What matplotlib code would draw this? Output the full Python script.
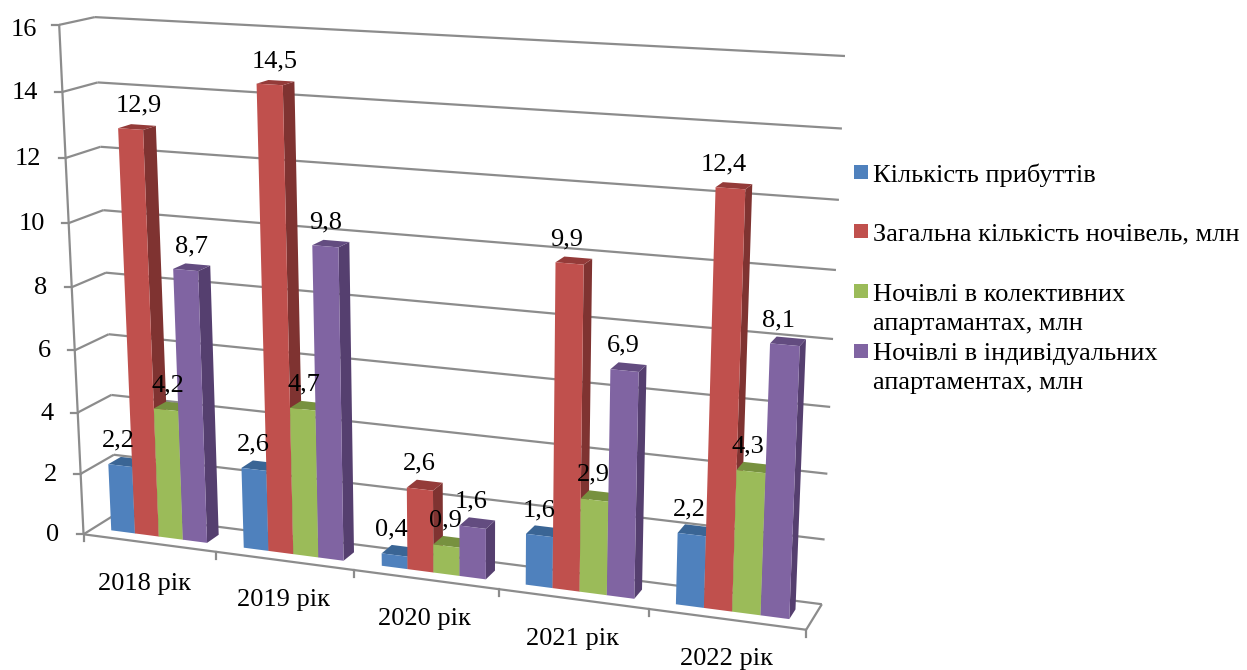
import numpy as np
import matplotlib
matplotlib.use("Agg")
import matplotlib.pyplot as plt
from matplotlib.patches import Polygon, Rectangle

plt.rcParams['font.family'] = ['Liberation Serif', 'DejaVu Serif']

# ---- data ----
categories = ['2018 рік', '2019 рік', '2020 рік', '2021 рік', '2022 рік']
arrivals = [2.2, 2.6, 0.4, 1.6, 2.2]
total_nights = [12.9, 14.5, 2.6, 9.9, 12.4]
collective_nights = [4.2, 4.7, 0.9, 2.9, 4.3]
individual_nights = [8.7, 9.8, 1.6, 6.9, 8.1]
series_names = ['Кількість прибуттів', 'Загальна кількість ночівель, млн',
                'Ночівлі в колективних\nапартамантах, млн',
                'Ночівлі в індивідуальних\nапартаментах, млн']
y_ticks = [0, 2, 4, 6, 8, 10, 12, 14, 16]

series = [arrivals, total_nights, collective_nights, individual_nights]
front_cols = ['#4F81BD', '#C0504D', '#9BBB59', '#8064A2']
side_cols = ['#385D8A', '#7F3331', '#6E8540', '#553F6F']
top_cols = ['#3A6595', '#943B39', '#77913F', '#634C80']
GREY = '#8C8C8C'
FS = 19

# horizontal nudge of each data label, pixels
label_dx = [[-8, -7, -8, -5, -6],
            [1, -1, -6, -8, -10],
            [-5, -5, -6, -5, -7],
            [-1, -6, -6, -5, -10]]
# nudges of category labels and of the top tick label, pixels
cat_dx = [-5, -1, -1, 0, 0]
cat_dy = [41, 39, 40, 40, 40]
tick_nudge = {16: (2, 4)}

# ---- perspective camera fitted to the plot box corners ----
calib_world = [(0, 0, 0), (0, 16, 0), (0, 0, 1), (0, 16, 1), (5, 0, 1), (5, 16, 1), (5, 0, 0)]
calib_px = [(82, 533), (60, 26), (118, 515), (94, 16), (821, 604), (845, 56), (807, 630)]
A, b = [], []
for (X, Y, Z), (u, v) in zip(calib_world, calib_px):
    A.append([X, Y, Z, 1, 0, 0, 0, 0, -u * X, -u * Y, -u * Z])
    A.append([0, 0, 0, 0, X, Y, Z, 1, -v * X, -v * Y, -v * Z])
    b += [u, v]
P = np.append(np.linalg.lstsq(np.array(A, float), np.array(b, float), rcond=None)[0], 1).reshape(3, 4)


def proj(x, y, z):
    h = P @ np.array([x, y, z, 1.0])
    return h[0] / h[2], h[1] / h[2]


fig = plt.figure(figsize=(12.47, 6.70), dpi=100)
ax = fig.add_axes([0, 0, 1, 1])
ax.set_xlim(0, 1247)
ax.set_ylim(670, 0)
ax.axis('off')


def line(a, b, lw=1.6, z=1):
    pa, pb = proj(*a), proj(*b)
    ax.plot([pa[0], pb[0]], [pa[1], pb[1]], color=GREY, lw=lw, zorder=z, solid_capstyle='butt')


# walls and gridlines
for t in y_ticks:
    line((0, t, 0), (0, t, 1))
    line((0, t, 1), (5, t, 1))
    px, py = proj(0, t, 0)
    ax.plot([px - 7, px], [py, py], color=GREY, lw=1.6, zorder=1)
    nx, ny = tick_nudge.get(t, (0, 0))
    ax.text(px - 24 + nx, py + 1 + ny, str(t), ha='right', va='center', fontsize=FS, color='black', zorder=6)
line((0, 0, 0), (0, 16, 0))
line((0, 0, 0), (5, 0, 0))
line((5, 0, 0), (5, 0, 1))
for i in range(6):
    px, py = proj(i, 0, 0)
    ax.plot([px, px], [py, py + 7], color=GREY, lw=1.6, zorder=1)
for i, c in enumerate(categories):
    px, py = proj(i + 0.5, 0, 0)
    ax.text(px + cat_dx[i], py + cat_dy[i], c, ha='center', va='center', fontsize=FS, color='black', zorder=6)

# bars
gap = 1.5
bw = 1 / (4 + gap)
z0, z1 = 0.3, 0.68
zo = 2
for i in range(len(categories)):
    for s, vals in enumerate(series):
        v = vals[i]
        x0 = i + gap * bw / 2 + s * bw
        x1 = x0 + bw
        front = [proj(x0, 0, z0), proj(x1, 0, z0), proj(x1, v, z0), proj(x0, v, z0)]
        side = [proj(x1, 0, z0), proj(x1, 0, z1), proj(x1, v, z1), proj(x1, v, z0)]
        top = [proj(x0, v, z0), proj(x1, v, z0), proj(x1, v, z1), proj(x0, v, z1)]
        ax.add_patch(Polygon(side, closed=True, fc=side_cols[s], ec='none', zorder=zo))
        ax.add_patch(Polygon(top, closed=True, fc=top_cols[s], ec='none', zorder=zo))
        ax.add_patch(Polygon(front, closed=True, fc=front_cols[s], ec='none', zorder=zo))
        zo += 0.01
        lx, ly = proj((x0 + x1) / 2, v, 0.5)
        ax.text(lx + label_dx[s][i], ly - 21, f'{v}'.replace('.', ','), ha='center', va='center',
                fontsize=FS, color='black', zorder=7)

# legend
legend_y = [172, 231, 291, 351]
text_y = [175, 234, 309.5, 368.5]
for name, col, ys, ty in zip(series_names, front_cols, legend_y, text_y):
    ax.add_patch(Rectangle((854, ys - 7), 14, 14, fc=col, ec='none', zorder=5))
    ax.text(873, ty, name, ha='left', va='center', fontsize=FS, color='black', linespacing=1.37, zorder=6)

fig.savefig('out.png', dpi=100)
